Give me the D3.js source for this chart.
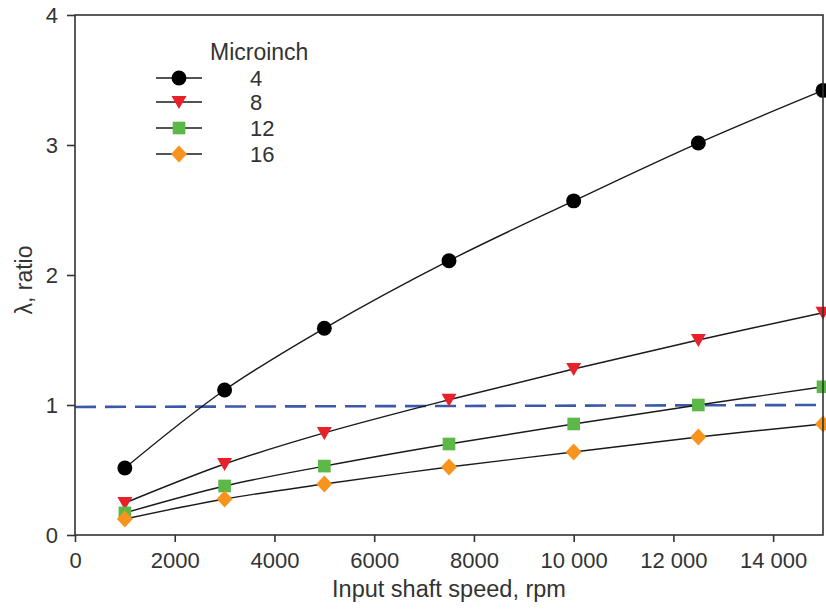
<!DOCTYPE html>
<html>
<head>
<meta charset="utf-8">
<script src="https://cdn.jsdelivr.net/npm/d3@7"></script>
<style>
    body { margin: 0; background: #fff; }
    text { font-family: "Liberation Sans", Arial, sans-serif; fill: #333; }
</style>
</head>
<body>
<svg id="chart" width="826" height="613"></svg>
<script>
// shaft speeds (rpm)
const speeds = [1000, 3000, 5000, 7500, 10000, 12500, 15000];
// lambda ratio for each surface roughness (microinch)
const roughness = ["4", "8", "12", "16"];
const lambda4 = [0.515, 1.115, 1.59, 2.11, 2.57, 3.015, 3.42];
const lambda8 = [0.246, 0.546, 0.785, 1.04, 1.277, 1.5, 1.71];
const lambda12 = [0.17, 0.377, 0.53, 0.70, 0.854, 1.0, 1.14];
const lambda16 = [0.123, 0.277, 0.392, 0.523, 0.638, 0.754, 0.854];
// lambda = 1 reference line
const refX = [0, 15000];
const refY = [0.985, 1.0];
const xTicks = [0, 2000, 4000, 6000, 8000, 10000, 12000, 14000];
const xTickLabels = ["0", "2000", "4000", "6000", "8000", "10 000", "12 000", "14 000"];
const yTicks = [0, 1, 2, 3, 4];

const series = [
    {name: roughness[0], values: lambda4, symbol: d3.symbolCircle, size: 175, color: "#000000"},
    {name: roughness[1], values: lambda8, symbol: "tri", size: 0, color: "#e8202a"},
    {name: roughness[2], values: lambda12, symbol: d3.symbolSquare, size: 160, color: "#5cb847"},
    {name: roughness[3], values: lambda16, symbol: "diamond", size: 0, color: "#f7941d"}
];

const svg = d3.select("#chart");
const margin = {left: 75, top: 15, right: 3, bottom: 78};
const width = 826 - margin.left - margin.right;
const height = 613 - margin.top - margin.bottom;

const x = d3.scaleLinear().domain([0, 15000]).range([0, width]);
const y = d3.scaleLinear().domain([0, 4]).range([height, 0]);

const g = svg.append("g")
    .attr("transform", "translate(" + margin.left + "," + margin.top + ")");

// marker path drawn around (0,0)
function markerPath(s){
    if(s.symbol === "tri"){
        return "M -7.5 -6 L 7.5 -6 L 0 7 Z";
    }
    if(s.symbol === "diamond"){
        return "M 0 -8.5 L 8 0 L 0 8.5 L -8 0 Z";
    }
    return d3.symbol().type(s.symbol).size(s.size)();
}

// dashed reference line
g.append("path")
    .datum(refX.map((d, i) => [d, refY[i]]))
    .attr("d", d3.line().x(d => x(d[0])).y(d => y(d[1])))
    .attr("fill", "none")
    .attr("stroke", "#3b58aa")
    .attr("stroke-width", 2.6)
    .attr("stroke-dasharray", "21,9");

const line = d3.line()
    .x(d => x(d[0]))
    .y(d => y(d[1]))
    .curve(d3.curveCatmullRom.alpha(0.5));

series.forEach(function(s){
    const pts = speeds.map((sp, i) => [sp, s.values[i]]);
    g.append("path")
        .datum(pts)
        .attr("d", line)
        .attr("fill", "none")
        .attr("stroke", "#1a1a1a")
        .attr("stroke-width", 1.4);
    g.selectAll(null)
        .data(pts)
        .enter()
        .append("path")
        .attr("transform", d => "translate(" + x(d[0]) + "," + y(d[1]) + ")")
        .attr("d", markerPath(s))
        .attr("fill", s.color);
});

// frame
g.append("rect")
    .attr("width", width)
    .attr("height", height)
    .attr("fill", "none")
    .attr("stroke", "#333")
    .attr("stroke-width", 1.6);

// axes
const xAxis = g.append("g")
    .attr("transform", "translate(0," + height + ")")
    .call(d3.axisBottom(x).tickValues(xTicks).tickSize(7).tickPadding(10)
        .tickFormat((d, i) => xTickLabels[i]));
const yAxis = g.append("g")
    .call(d3.axisLeft(y).tickValues(yTicks).tickSize(8).tickPadding(9)
        .tickFormat(d3.format("d")));
[xAxis, yAxis].forEach(function(ax){
    ax.select(".domain").remove();
    ax.selectAll("line").attr("stroke", "#333").attr("stroke-width", 1.6);
    ax.selectAll("text")
        .attr("font-size", 22)
        .attr("font-family", "Liberation Sans, Arial, sans-serif")
        .attr("fill", "#333");
});

// axis titles
svg.append("text")
    .attr("x", margin.left + x(7500))
    .attr("y", 597)
    .attr("text-anchor", "middle")
    .attr("font-size", 23.5)
    .text("Input shaft speed, rpm");
svg.append("text")
    .attr("transform", "translate(32,280) rotate(-90)")
    .attr("text-anchor", "middle")
    .attr("font-size", 23)
    .text("λ, ratio");

// legend
const legend = svg.append("g");
legend.append("text")
    .attr("x", 210)
    .attr("y", 60)
    .attr("font-size", 23)
    .text("Microinch");
const legendY = [78, 102, 128, 154];
series.forEach(function(s, i){
    const row = legend.append("g").attr("transform", "translate(0," + legendY[i] + ")");
    row.append("line")
        .attr("x1", 156).attr("x2", 202)
        .attr("stroke", "#1a1a1a")
        .attr("stroke-width", 1.4);
    row.append("path")
        .attr("transform", "translate(179,0)")
        .attr("d", markerPath(s))
        .attr("fill", s.color);
    row.append("text")
        .attr("x", 250)
        .attr("y", 8)
        .attr("font-size", 22)
        .text(s.name);
});
</script>
</body>
</html>
